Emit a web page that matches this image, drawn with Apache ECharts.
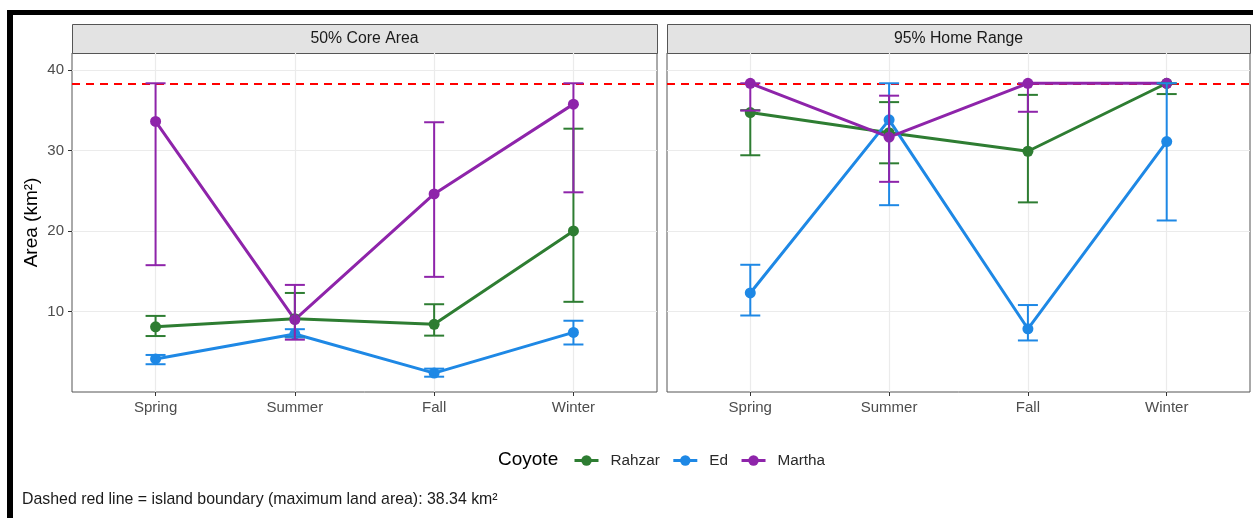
<!DOCTYPE html>
<html>
<head>
<meta charset="utf-8">
<script src="https://cdn.jsdelivr.net/npm/echarts@6/dist/echarts.min.js"></script>
<style>
  html, body { margin: 0; padding: 0; background: #ffffff; }
  #chart { width: 1253px; height: 518px; }
</style>
</head>
<body>
<div id="chart"></div>
<script>
// Seasons, panels and coyotes
const seasons = ['Spring', 'Summer', 'Fall', 'Winter'];
const panelTitles = ['50% Core Area', '95% Home Range'];
const coyotes = ['Rahzar', 'Ed', 'Martha'];
const yTickValues = [10, 20, 30, 40];
const islandBoundary = 38.34; // km², maximum land area

// 50% core area: mean, lower and upper bounds per season
const coreRahzar     = [8.1, 9.1, 8.4, 20.0];
const coreRahzarLow  = [6.95, 6.8, 7.0, 11.2];
const coreRahzarHigh = [9.45, 12.3, 10.9, 32.7];
const coreEd         = [4.1, 7.2, 2.35, 7.4];
const coreEdLow      = [3.45, 6.8, 1.9, 5.9];
const coreEdHigh     = [4.6, 7.8, 2.9, 8.85];
const coreMartha     = [33.6, 9.0, 24.6, 35.75];
const coreMarthaLow  = [15.75, 6.5, 14.3, 24.8];
const coreMarthaHigh = [38.34, 13.3, 33.5, 38.34];

// 95% home range: mean, lower and upper bounds per season
const homeRahzar     = [34.7, 32.2, 29.9, 38.34];
const homeRahzarLow  = [29.4, 28.4, 23.55, 37.0];
const homeRahzarHigh = [35.0, 36.0, 36.9, 38.34];
const homeEd         = [12.3, 33.8, 7.85, 31.1];
const homeEdLow      = [9.5, 23.2, 6.4, 21.3];
const homeEdHigh     = [15.8, 38.34, 10.8, 38.34];
const homeMartha     = [38.34, 31.65, 38.34, 38.34];
const homeMarthaLow  = [34.95, 26.1, 34.8, null];
const homeMarthaHigh = [38.34, 36.8, 38.34, null];

const panelData = [
  [
    [coreRahzar, coreRahzarLow, coreRahzarHigh],
    [coreEd, coreEdLow, coreEdHigh],
    [coreMartha, coreMarthaLow, coreMarthaHigh]
  ],
  [
    [homeRahzar, homeRahzarLow, homeRahzarHigh],
    [homeEd, homeEdLow, homeEdHigh],
    [homeMartha, homeMarthaLow, homeMarthaHigh]
  ]
];

const colors = ['#2e7d32', '#1e88e5', '#8e24aa'];
const FONT = '"Liberation Sans", Arial, sans-serif';

// Panel geometry
const panelTop = 53, panelHeight = 339;
const panelLefts = [72, 667];
const panelWidths = [585, 583];
const stripTop = 24, stripHeight = 29;

function renderErrorBar(params, api) {
  const x = api.value(0);
  const lo = api.value(1);
  const hi = api.value(2);
  const pLo = api.coord([x, lo]);
  const pHi = api.coord([x, hi]);
  const hw = 10;
  const style = { stroke: api.visual('color'), lineWidth: 2, fill: null };
  return {
    type: 'group',
    children: [
      { type: 'line', shape: { x1: pLo[0], y1: pLo[1], x2: pHi[0], y2: pHi[1] }, style: style },
      { type: 'line', shape: { x1: pLo[0] - hw, y1: pLo[1], x2: pLo[0] + hw, y2: pLo[1] }, style: style },
      { type: 'line', shape: { x1: pHi[0] - hw, y1: pHi[1], x2: pHi[0] + hw, y2: pHi[1] }, style: style }
    ]
  };
}

const grids = [], xAxes = [], yAxes = [], series = [];

panelTitles.forEach(function (title, p) {
  grids.push({
    left: panelLefts[p], top: panelTop, width: panelWidths[p], height: panelHeight,
    show: true, borderColor: '#555555', borderWidth: 1, backgroundColor: '#ffffff'
  });
  xAxes.push({
    type: 'value', gridIndex: p, min: -0.6, max: 3.6, position: 'bottom',
    axisLine: { show: false, onZero: false },
    axisTick: { show: true, customValues: [0, 1, 2, 3], length: 4, lineStyle: { color: '#333333', width: 1 } },
    axisLabel: {
      customValues: [0, 1, 2, 3], margin: 8,
      formatter: function (v) { return seasons[Math.round(v)]; },
      color: '#4d4d4d', fontFamily: FONT, fontSize: 15
    },
    splitLine: { show: true, lineStyle: { color: '#ebebeb', width: 1.2 } }
  });
  yAxes.push({
    type: 'value', gridIndex: p, min: 0, max: 42.1, position: 'left',
    name: p === 0 ? 'Area (km²)' : '',
    nameLocation: 'middle', nameGap: 31, nameRotate: 90,
    nameTextStyle: { color: '#000000', fontFamily: FONT, fontSize: 19 },
    axisLine: { show: false, onZero: false },
    axisTick: { show: p === 0, customValues: yTickValues, length: 4, lineStyle: { color: '#333333', width: 1 } },
    axisLabel: {
      show: p === 0, customValues: yTickValues, margin: 8,
      color: '#4d4d4d', fontFamily: FONT, fontSize: 15
    },
    splitLine: { show: true, lineStyle: { color: '#ebebeb', width: 1.2 } }
  });

  coyotes.forEach(function (name, c) {
    const d = panelData[p][c];
    const means = d[0], lows = d[1], highs = d[2];
    const lineSeries = {
      type: 'line', name: name, xAxisIndex: p, yAxisIndex: p,
      data: means.map(function (v, i) { return [i, v]; }),
      symbol: 'circle', symbolSize: 11, showSymbol: true,
      lineStyle: { color: colors[c], width: 3 },
      itemStyle: { color: colors[c] },
      z: 3, animation: false, silent: true
    };
    if (c === 0) {
      lineSeries.markLine = {
        z: 1, silent: true, symbol: 'none', animation: false,
        label: { show: false },
        lineStyle: { color: '#ff0000', type: [8, 6], width: 2 },
        data: [{ yAxis: islandBoundary }]
      };
    }
    series.push(lineSeries);

    const errData = [];
    lows.forEach(function (lo, i) {
      if (lo !== null && highs[i] !== null) errData.push([i, lo, highs[i]]);
    });
    series.push({
      type: 'custom', name: name, xAxisIndex: p, yAxisIndex: p,
      renderItem: renderErrorBar,
      encode: { x: 0, y: [1, 2] },
      data: errData,
      itemStyle: { color: colors[c] },
      z: 4, animation: false, silent: true
    });
  });
});

// Facet strips, frame, legend title and caption
const graphics = [];
panelTitles.forEach(function (title, p) {
  graphics.push({
    type: 'rect', left: panelLefts[p], top: stripTop,
    shape: { width: panelWidths[p], height: stripHeight },
    style: { fill: '#e3e3e3', stroke: '#555555', lineWidth: 1 }
  });
  graphics.push({
    type: 'text', x: panelLefts[p] + panelWidths[p] / 2, y: stripTop + stripHeight / 2,
    style: {
      text: title, fill: '#1a1a1a', font: '15.8px ' + FONT,
      textAlign: 'center', textVerticalAlign: 'middle'
    }
  });
});
graphics.push({ type: 'rect', left: 7, top: 10, shape: { width: 1246, height: 5 }, style: { fill: '#000000' } });
graphics.push({ type: 'rect', left: 7, top: 10, shape: { width: 6, height: 508 }, style: { fill: '#000000' } });
graphics.push({
  type: 'text', x: 498, y: 460,
  style: { text: 'Coyote', fill: '#000000', font: '19px ' + FONT, textAlign: 'left', textVerticalAlign: 'middle' }
});
graphics.push({
  type: 'text', x: 22, y: 500,
  style: {
    text: 'Dashed red line = island boundary (maximum land area): 38.34 km²',
    fill: '#1a1a1a', font: '15.9px ' + FONT, textAlign: 'left', textVerticalAlign: 'middle'
  }
});

const chart = echarts.init(document.getElementById('chart'), null, { renderer: 'canvas' });
chart.setOption({
  backgroundColor: '#ffffff',
  animation: false,
  grid: grids,
  xAxis: xAxes,
  yAxis: yAxes,
  legend: {
    data: coyotes,
    left: 573, top: 453, padding: 0,
    itemWidth: 24, itemHeight: 13, itemGap: 12,
    lineStyle: { width: 3 },
    textStyle: { color: '#2a2a2a', fontFamily: FONT, fontSize: 15.3, padding: [0, 0, 0, 7] },
    selectedMode: false
  },
  series: series,
  graphic: graphics
});
</script>
</body>
</html>
